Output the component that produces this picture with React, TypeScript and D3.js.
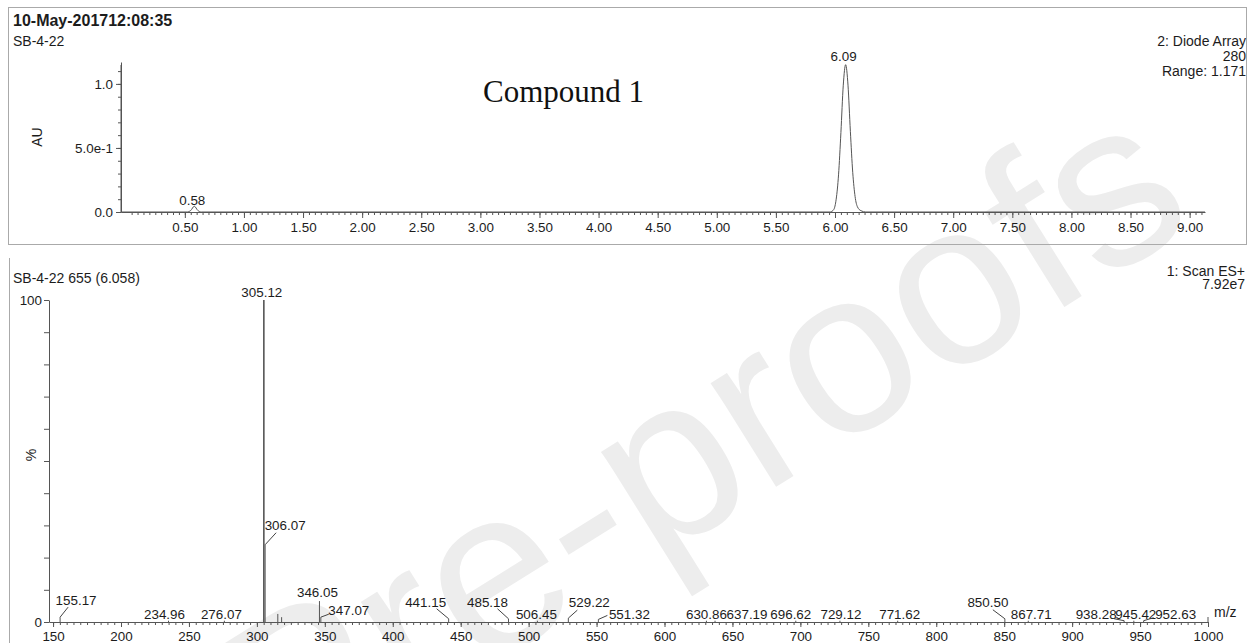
import { useRef, useEffect } from "react";
import * as d3 from "d3";

// chromatogram, diode array 280 (time in min, absorbance AU)
const uvTime = [-0.04, 0.52, 0.55, 0.58, 0.61, 0.64, 5.96, 5.99, 6.01, 6.03, 6.05, 6.07, 6.09, 6.11, 6.13, 6.15, 6.17, 6.19, 6.22, 6.26, 9.13];
const uvAbs = [0, 0, 0.012, 0.045, 0.012, 0, 0, 0.02, 0.1, 0.29, 0.62, 0.99, 1.15, 0.99, 0.63, 0.31, 0.12, 0.04, 0.01, 0, 0];
const uvPeaks = [0.58, 6.09];
const uvTicks = [0.5, 1, 1.5, 2, 2.5, 3, 3.5, 4, 4.5, 5, 5.5, 6, 6.5, 7, 7.5, 8, 8.5, 9];
const uvYTicks = [0, 0.5, 1.0];
const uvYTickLabels = ["0.0", "5.0e-1", "1.0"];

// mass spectrum, scan 655 (m/z, relative intensity %)
const msMz = [155.17, 234.96, 276.07, 305.12, 306.07, 315.4, 318.2, 346.05, 347.07, 441.15, 485.18, 506.45, 529.22, 551.32, 630.86, 637.19, 696.62, 729.12, 771.62, 850.5, 867.71, 938.28, 945.42, 952.63];
const msIntensity = [1.5, 0.4, 0.4, 100, 24, 2.5, 1.5, 6.5, 1.5, 1, 1, 0.4, 1.2, 0.8, 0.4, 0.4, 0.4, 0.4, 0.4, 1, 0.4, 0.4, 0.4, 0.4];
const msUnlabelled = [315.4, 318.2];
const msTicks = d3.range(150, 1001, 50);

// label placement: [dx, dy, leaderX, leaderY] relative to the peak top
const labelPlace: Record<string, number[]> = {
  "155.17": [16, -12, 8, -10],
  "234.96": [-4, -2],
  "276.07": [-3, -2],
  "305.12": [-2, -3],
  "306.07": [20, -15, 11, -12],
  "346.05": [-2, -4],
  "347.07": [28, -2, 8, -3],
  "441.15": [-23, -12, -12, -10],
  "485.18": [-21, -12, -11, -10],
  "506.45": [-1, -2],
  "529.22": [21, -11, 9, -8],
  "551.32": [31, 0, 9, -4],
  "630.86": [0, -2],
  "637.19": [32, -2],
  "696.62": [-5, -2],
  "729.12": [1, -2],
  "771.62": [2, -2],
  "850.50": [-17, -12, -12, -9],
  "867.71": [3, -2],
  "938.28": [-28, -2, -10, -2],
  "945.42": [2, -2],
  "952.63": [32, -2, 10, -3],
};

export default function App() {
  const svgRef = useRef<SVGSVGElement>(null);

  useEffect(() => {
    const svg = d3.select(svgRef.current);
    svg.selectAll("*").remove();

    const font = "'Liberation Sans', Arial, sans-serif";
    const ink = "#1c1c1c";
    const lineC = "#555";
    const fs = 13.4;
    const hs = 14;

    // watermark
    svg.append("text")
      .attr("transform", "translate(1200,222) rotate(-32)")
      .attr("text-anchor", "end")
      .attr("font-family", font)
      .attr("font-size", 232)
      .attr("fill", "#ededed")
      .text("Journal Pre-proofs");

    // frames
    svg.append("rect")
      .attr("x", 8.5).attr("y", 7.5).attr("width", 1238).attr("height", 237)
      .attr("fill", "none").attr("stroke", "#aaa");
    svg.append("line")
      .attr("x1", 9.5).attr("x2", 9.5).attr("y1", 258).attr("y2", 643)
      .attr("stroke", "#aaa");

    const txt = (x: number, y: number, s: string, anchor = "start", size = fs, weight = "normal") =>
      svg.append("text")
        .attr("x", x).attr("y", y)
        .attr("text-anchor", anchor)
        .attr("font-family", font)
        .attr("font-size", size)
        .attr("font-weight", weight)
        .attr("fill", ink)
        .text(s);

    // ---------- top: chromatogram ----------
    txt(13, 26, "10-May-201712:08:35", "start", 16, "bold");
    txt(13, 46, "SB-4-22", "start", hs);
    txt(1246, 46, "2: Diode Array", "end", hs);
    txt(1246, 61, "280", "end", hs);
    txt(1246, 75.5, "Range: 1.171", "end", hs);
    svg.append("text")
      .attr("x", 483).attr("y", 102)
      .attr("font-family", "'Liberation Serif', 'Times New Roman', serif")
      .attr("font-size", 31)
      .attr("fill", "#111")
      .text("Compound 1");

    const x1 = d3.scaleLinear().domain([-0.04, 9.13]).range([121, 1205]);
    const y1 = d3.scaleLinear().domain([0, 1.171]).range([212, 62]);

    const gx1 = svg.append("g").attr("transform", `translate(0,${y1(0)})`);
    gx1.append("g")
      .call(d3.axisBottom(x1).tickValues(d3.range(0.05, 9.13, 0.05)).tickSize(3).tickFormat(() => ""))
      .call(g => g.select(".domain").remove());
    gx1.append("g")
      .call(d3.axisBottom(x1).tickValues(uvTicks).tickSize(6).tickPadding(4).tickSizeOuter(0).tickFormat(d3.format(".2f")));

    const gy1 = svg.append("g").attr("transform", `translate(${x1.range()[0]},0)`);
    gy1.append("g")
      .call(d3.axisLeft(y1).tickValues(d3.range(0.1, 1.15, 0.1)).tickSize(3).tickFormat(() => ""))
      .call(g => g.select(".domain").remove());
    gy1.append("g")
      .call(d3.axisLeft(y1).tickValues(uvYTicks).tickSize(5).tickPadding(3).tickSizeOuter(0)
        .tickFormat((d, i) => uvYTickLabels[i]));
    gy1.append("line").attr("y1", y1(0)).attr("y2", y1(1.148)).attr("stroke", lineC);

    svg.append("text")
      .attr("transform", `translate(42,137) rotate(-90)`)
      .attr("text-anchor", "middle")
      .attr("font-family", font).attr("font-size", hs).attr("fill", ink)
      .text("AU");

    const uvLine = d3.line<number>()
      .x((d, i) => x1(uvTime[i]))
      .y(d => y1(d))
      .curve(d3.curveMonotoneX);
    svg.append("path")
      .attr("d", uvLine(uvAbs))
      .attr("fill", "none").attr("stroke", lineC).attr("stroke-width", 1);

    uvPeaks.forEach(t => {
      const i = uvTime.indexOf(t);
      txt(x1(t) - 2, y1(uvAbs[i]) - (t > 1 ? 4 : 1.5), t.toFixed(2), "middle");
    });

    // ---------- bottom: mass spectrum ----------
    txt(13, 283, "SB-4-22 655 (6.058)", "start", hs);
    txt(1245, 276, "1: Scan ES+", "end", hs);
    txt(1245, 289, "7.92e7", "end", hs);

    const x2 = d3.scaleLinear().domain([147, 1000]).range([49, 1208]);
    const y2 = d3.scaleLinear().domain([0, 100]).range([622, 300]);

    const gx2 = svg.append("g").attr("transform", `translate(0,${y2(0)})`);
    gx2.append("g")
      .call(d3.axisBottom(x2).tickValues(d3.range(150, 1000, 5)).tickSize(3).tickFormat(() => ""))
      .call(g => g.select(".domain").remove());
    gx2.append("g")
      .call(d3.axisBottom(x2).tickValues(msTicks).tickSize(5).tickPadding(4).tickSizeOuter(0).tickFormat(d3.format("d")));
    gx2.append("line")
      .attr("x1", x2(1000)).attr("x2", x2(1000)).attr("y1", 0).attr("y2", -5)
      .attr("stroke", lineC);
    txt(1214, 617, "m/z", "start", hs);

    const gy2 = svg.append("g").attr("transform", `translate(${x2.range()[0]},0)`);
    gy2.call(d3.axisLeft(y2).tickValues(d3.range(0, 101, 10)).tickSize(5).tickPadding(2).tickSizeOuter(0)
      .tickFormat(d => (d === 0 || d === 100 ? String(d) : "")));
    svg.append("text")
      .attr("transform", `translate(36,455) rotate(-90)`)
      .attr("text-anchor", "middle")
      .attr("font-family", font).attr("font-size", hs).attr("fill", ink)
      .text("%");

    svg.append("g").selectAll("line")
      .data(msMz)
      .join("line")
      .attr("x1", d => x2(d)).attr("x2", d => x2(d))
      .attr("y1", y2(0))
      .attr("y2", (d, i) => y2(msIntensity[i]))
      .attr("stroke", lineC)
      .attr("stroke-width", (d, i) => (msIntensity[i] > 50 ? 1.6 : 1));

    msMz.forEach((mz, i) => {
      if (msUnlabelled.includes(mz)) return;
      const label = mz.toFixed(2);
      const p = labelPlace[label] || [0, -2];
      const px = x2(mz), py = y2(msIntensity[i]);
      if (p.length > 2) {
        svg.append("line")
          .attr("x1", px).attr("y1", py)
          .attr("x2", px + p[2]).attr("y2", py + p[3])
          .attr("stroke", "#444");
      }
      txt(px + p[0], py + p[1], label, "middle");
    });

    svg.selectAll(".tick text").attr("font-size", fs).attr("font-family", font).attr("fill", ink);
    svg.selectAll(".tick line").attr("stroke", lineC);
    svg.selectAll(".domain").attr("stroke", lineC);
  }, []);

  return (
    <svg ref={svgRef} width={1249} height={643}
      style={{ position: "absolute", left: 0, top: 0, background: "#fff" }} />
  );
}
